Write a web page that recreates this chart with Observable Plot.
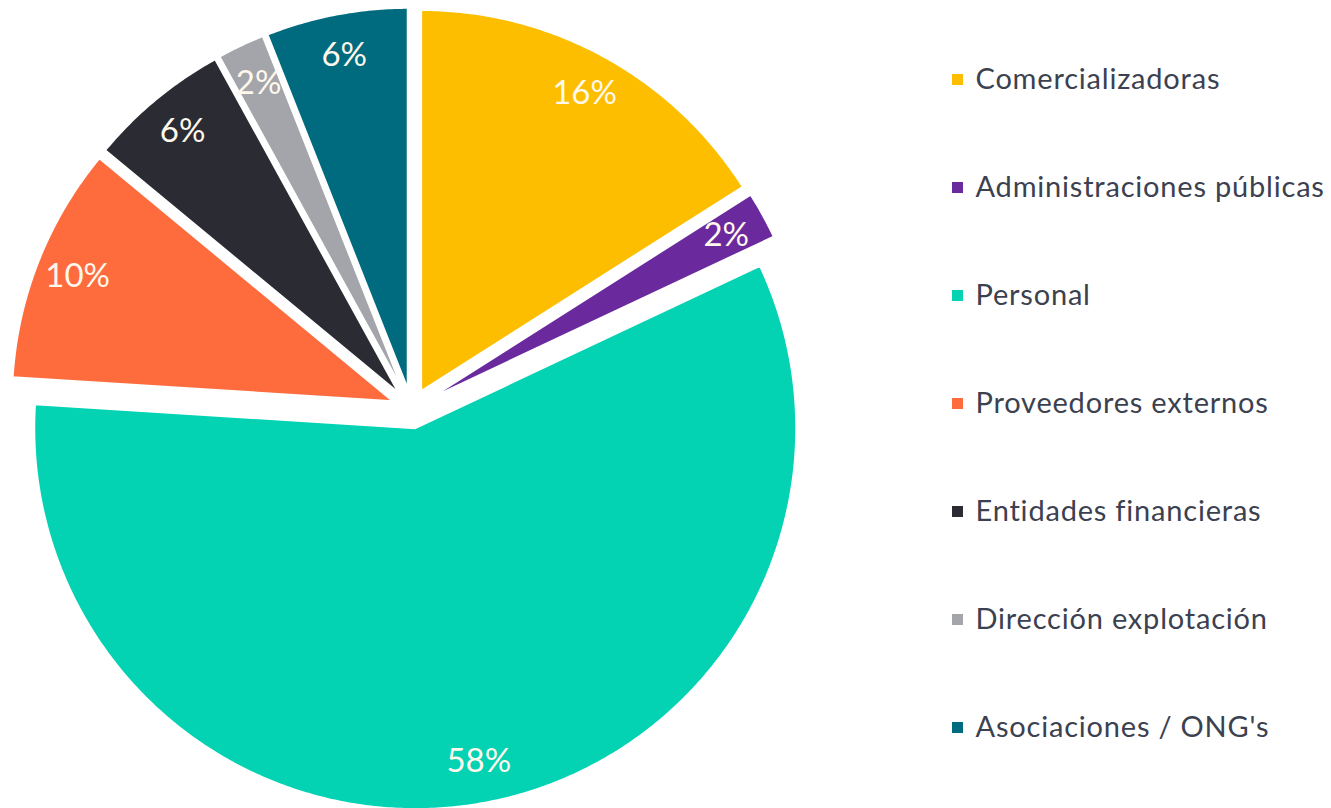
<!DOCTYPE html>
<html>
<head>
<meta charset="utf-8">
<script src="https://cdn.jsdelivr.net/npm/d3@7"></script>
<script src="https://cdn.jsdelivr.net/npm/@observablehq/plot@0.6"></script>
<style>
  html, body { margin: 0; padding: 0; background: #fff; }
  #wrap { display: flex; flex-direction: row; width: 1331px; height: 808px; overflow: hidden; }
</style>
</head>
<body>
<div id="wrap"></div>
<script>
const categories = ["Comercializadoras", "Administraciones públicas", "Personal", "Proveedores externos", "Entidades financieras", "Dirección explotación", "Asociaciones / ONG's"];
const shares = [16, 2, 58, 10, 6, 2, 6];
const shareLabels = ["16%", "2%", "58%", "10%", "6%", "2%", "6%"];
const colors = ["#fdbe00", "#6a2a9e", "#03d2b3", "#fe6b3d", "#2b2b34", "#a4a5aa", "#006b7e"];

// layout (pixels)
const pieW = 900, H = 808;
const cx = 411, cy = 408, R = 381;
const explode = 20 / R;       // in radius units
const labelFrac = 0.89;

const rows = categories.map((c, i) => ({cat: c, share: shares[i], label: shareLabels[i]}));
const arcs = d3.pie().sort(null).value(d => d.share)(rows);

const polyPts = [];
const labelPts = [];
for (const a of arcs) {
  const mid = (a.startAngle + a.endAngle) / 2;
  const ox = explode * Math.sin(mid), oy = explode * Math.cos(mid);
  polyPts.push({cat: a.data.cat, x: ox, y: oy});
  const n = Math.max(2, Math.ceil((a.endAngle - a.startAngle) / (Math.PI / 360)));
  for (let k = 0; k <= n; k++) {
    const t = a.startAngle + (a.endAngle - a.startAngle) * k / n;
    polyPts.push({cat: a.data.cat, x: ox + Math.sin(t), y: oy + Math.cos(t)});
  }
  labelPts.push({cat: a.data.cat, text: a.data.label,
    x: ox + labelFrac * Math.sin(mid), y: oy + labelFrac * Math.cos(mid)});
}

const pie = Plot.plot({
  width: pieW, height: H, margin: 0,
  style: {fontFamily: "Lato, 'Open Sans', sans-serif", background: "white"},
  x: {domain: [-cx / R, (pieW - cx) / R], axis: null},
  y: {domain: [-(H - cy) / R, cy / R], axis: null},
  color: {domain: categories, range: colors},
  marks: [
    Plot.line(polyPts, {x: "x", y: "y", z: "cat", fill: "cat", stroke: "white", strokeWidth: 2, curve: "linear-closed"}),
    Plot.text(labelPts, {x: "x", y: "y", text: "text", fill: "#fff8ec", fontSize: 33, fontFamily: "Lato", style: "letter-spacing:2px"})
  ]
});

const legend = Plot.plot({
  width: 1331 - pieW, height: H, margin: 0,
  style: {fontFamily: "Lato, 'Open Sans', sans-serif", background: "white", letterSpacing: "0.8px"},
  y: {type: "point", domain: categories, range: [76, 729], padding: 0, axis: null},
  color: {domain: categories, range: colors},
  marks: [
    Plot.dot(categories, {y: d => d, fill: d => d, symbol: "square", r: 6.2, frameAnchor: "left", dx: 57}),
    Plot.text(categories, {y: d => d, text: d => d, frameAnchor: "left", dx: 75, textAnchor: "start", fontSize: 29, fill: "#3c4150", fontFamily: "Lato"})
  ]
});

const wrap = document.getElementById("wrap");
wrap.appendChild(pie);
wrap.appendChild(legend);
</script>
</body>
</html>
